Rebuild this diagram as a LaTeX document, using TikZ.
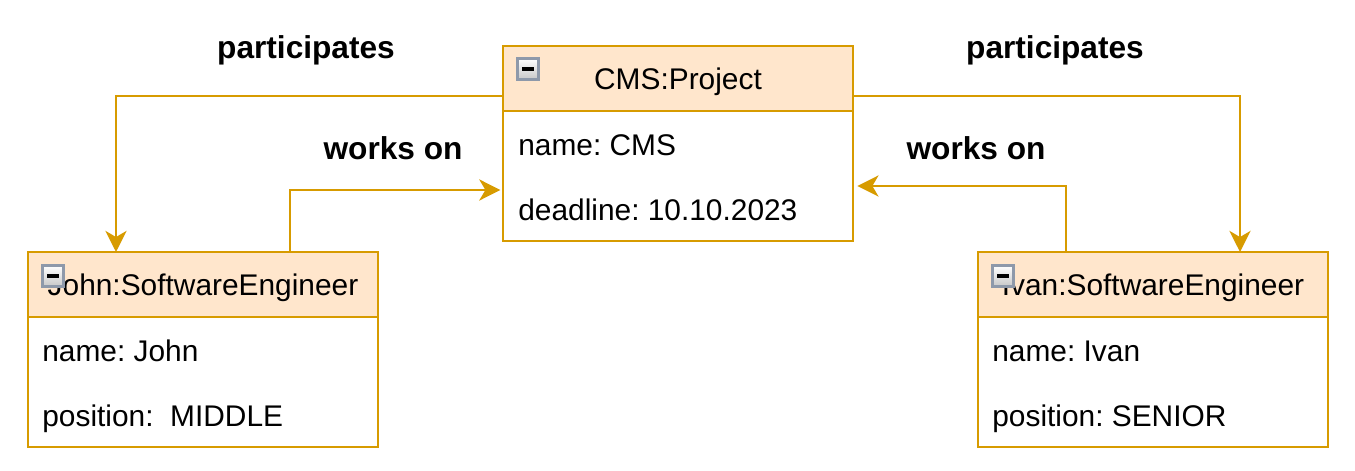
\documentclass[tikz,border=0pt]{standalone}
\usepackage{fontspec}
\setmainfont{Liberation Sans}
\frenchspacing
\usetikzlibrary{positioning, arrows.meta}
\definecolor{umlline}{HTML}{D79B00}
\definecolor{umlfill}{HTML}{FFE6CC}
\definecolor{iconedge}{HTML}{8E99AA}
\tikzstyle{arrow} = [line width=1.6pt, draw=umlline, -{Stealth[length=12pt, width=12pt, inset=3.5pt]}]
\tikzstyle{classhead} = [rectangle, draw=umlline, fill=umlfill, line width=1.6pt, outer sep=0pt, minimum width=7cm, minimum height=1.3cm, text height=0.43cm, text depth=0pt, font=\fontsize{17}{20}\selectfont]
\tikzstyle{classbody} = [rectangle, draw=umlline, fill=white, line width=1.6pt, outer sep=0pt, minimum width=7cm, minimum height=2.6cm]
\tikzstyle{attr} = [anchor=base west, inner sep=0pt, font=\fontsize{17}{20}\selectfont]
\tikzstyle{rel} = [anchor=base, inner sep=0pt, font=\bfseries\fontsize{18}{22}\selectfont]
\tikzstyle{collapse} = [rectangle, draw=iconedge, line width=1.8pt, top color=white, bottom color=black!22, minimum size=0.42cm, inner sep=0pt, anchor=north west,
  path picture={\draw[line width=2pt, black] ([xshift=0.09cm]path picture bounding box.west) -- ([xshift=-0.09cm]path picture bounding box.east);}]

\begin{document}
\begin{tikzpicture}
\useasboundingbox (0,0) rectangle (27.1,-9.42);
% classes
\node (cmshead) [classhead] at (13.56,-1.57) {CMS:Project};
\node (cmsbody) [classbody, below=0pt of cmshead] {};
\node (johnhead) [classhead] at (4.06,-5.69) {John:SoftwareEngineer};
\node (johnbody) [classbody, below=0pt of johnhead] {};
\node (ivanhead) [classhead] at (23.06,-5.69) {Ivan:SoftwareEngineer};
\node (ivanbody) [classbody, below=0pt of ivanhead] {};
\node (cmsicon) [collapse] at ([xshift=0.26cm, yshift=-0.22cm]cmshead.north west) {};
\node (johnicon) [collapse] at ([xshift=0.26cm, yshift=-0.24cm]johnhead.north west) {};
\node (ivanicon) [collapse] at ([xshift=0.26cm, yshift=-0.24cm]ivanhead.north west) {};
% attributes
\node (cmsname) [attr] at ([xshift=0.3cm, yshift=-0.9cm]cmsbody.north west) {name: CMS};
\node (cmsdeadline) [attr] at ([xshift=0.3cm, yshift=-2.2cm]cmsbody.north west) {deadline: 10.10.2023};
\node (johnname) [attr] at ([xshift=0.28cm, yshift=-0.9cm]johnbody.north west) {name: John};
\node (johnpos) [attr] at ([xshift=0.28cm, yshift=-2.2cm]johnbody.north west) {position:~ MIDDLE};
\node (ivanname) [attr] at ([xshift=0.28cm, yshift=-0.9cm]ivanbody.north west) {name: Ivan};
\node (ivanpos) [attr] at ([xshift=0.28cm, yshift=-2.2cm]ivanbody.north west) {position: SENIOR};
% links
\draw [arrow] ([yshift=-0.35cm]cmshead.west) -| ([xshift=1.76cm]johnhead.north west);
\draw [arrow] ([xshift=1.74cm]johnhead.north) |- ([xshift=-1.5pt, yshift=-1.58cm]cmsbody.north west);
\draw [arrow] ([yshift=-0.35cm]cmshead.east) -| ([xshift=1.74cm]ivanhead.north);
\draw [arrow] ([xshift=-1.74cm]ivanhead.north) |- ([xshift=2.5pt, yshift=-1.5cm]cmsbody.north east);
\node (partleft) [rel] at (6.12,-1.18) {participates};
\node (partright) [rel] at (21.1,-1.18) {participates};
\node (workleft) [rel] at (7.86,-3.2) {works on};
\node (workright) [rel] at (19.52,-3.2) {works on};
\end{tikzpicture}
\end{document}
